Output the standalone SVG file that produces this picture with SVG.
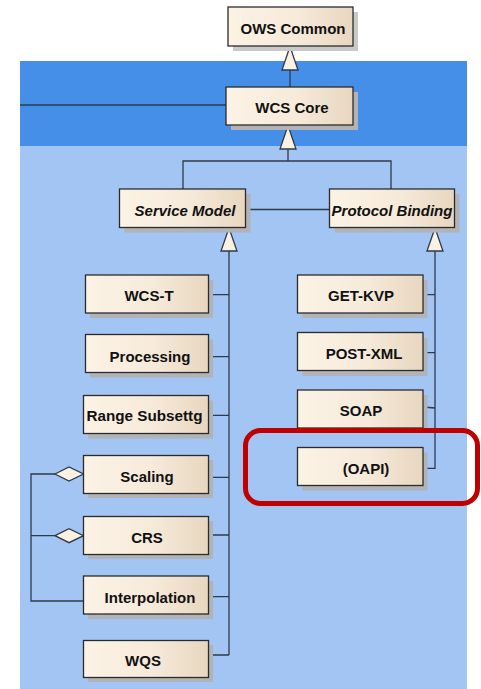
<svg xmlns="http://www.w3.org/2000/svg" width="481" height="689" viewBox="0 0 481 689">
  <defs>
    <linearGradient id="boxFill" x1="0" y1="0" x2="1" y2="0">
      <stop offset="0" stop-color="#FCF3E5"/>
      <stop offset="0.55" stop-color="#F6EADA"/>
      <stop offset="1" stop-color="#E8D7BF"/>
    </linearGradient>
    <style>
      .box { fill: url(#boxFill); stroke: #2b2b2b; stroke-width: 1.3; }
      .shadow { fill: #b2b3b6; }
      .shadow-w { fill: #c9c9c9; }
      .lbl { font-family: "Liberation Sans", Arial, sans-serif; font-weight: bold; font-size: 15px; fill: #111; text-anchor: middle; }
      .it { font-style: italic; }
      .wire { fill: none; stroke: #2f3a48; stroke-width: 1.3; }
      .head { fill: #FBF1E2; stroke: #2f3a48; stroke-width: 1.3; stroke-linejoin: miter; }
    </style>
  </defs>

  <!-- package backgrounds -->
  <rect x="0" y="0" width="481" height="689" fill="#ffffff"/>
  <rect x="20" y="146" width="447" height="543" fill="#A2C5F4"/>
  <rect x="20" y="61" width="447" height="85" fill="#458FE9"/>

  <!-- connectors -->
  <g id="connectors">
    <!-- WCS Core -> OWS Common -->
    <path class="wire" d="M290 70 V87"/>
    <polygon class="head" points="290,46.5 282,70 298,70"/>
    <!-- external link into WCS Core -->
    <path class="wire" d="M20 105 H226"/>
    <!-- Service Model / Protocol Binding -> WCS Core -->
    <path class="wire" d="M288 149 V161 M183 189 V161 H391 V189"/>
    <polygon class="head" points="288,125.5 280,149 296,149"/>
    <!-- Service Model — Protocol Binding -->
    <path class="wire" d="M246 209.5 H329"/>
    <!-- extensions -> Service Model -->
    <path class="wire" d="M229 251 V655 M209 294.7 H229 M209 356.7 H229 M209 415.3 H229 M209 477.3 H229 M209 535 H229 M209 596.7 H229 M209 655 H229"/>
    <polygon class="head" points="229,228 221,251 237,251"/>
    <!-- bindings -> Protocol Binding -->
    <path class="wire" d="M435 251 V468.3 H423 M423 294.7 H435 M423 352.7 H435 M423 407 L435 408"/>
    <polygon class="head" points="435,228 427,251 443,251"/>
    <!-- aggregations into Interpolation -->
    <path class="wire" d="M55 474 H31 V601 H83.5 M55 535.7 H31"/>
    <polygon class="head" points="55,474 69,467 83.5,474 69,481"/>
    <polygon class="head" points="55,535.7 69,528.7 83.5,535.7 69,542.7"/>
  </g>

  <g id="ows-common">
    <rect class="shadow-w" x="233" y="12" width="125" height="39"/>
    <rect class="box" x="228" y="7" width="125" height="39"/>
    <text class="lbl" x="293" y="34">OWS Common</text>
  </g>
  <g id="wcs-core">
    <rect class="shadow" x="231" y="92" width="127" height="38"/>
    <rect class="box" x="226" y="87" width="127" height="38"/>
    <text class="lbl" x="292" y="112.5">WCS Core</text>
  </g>
  <g id="service-model">
    <rect class="shadow" x="124.5" y="194" width="126" height="38.5"/>
    <rect class="box" x="119.5" y="189" width="126" height="38.5"/>
    <text class="lbl it" x="185" y="215.5">Service Model</text>
  </g>
  <g id="protocol-binding">
    <rect class="shadow" x="334.5" y="194" width="125" height="38.5"/>
    <rect class="box" x="329.5" y="189" width="125" height="38.5"/>
    <text class="lbl it" x="392" y="215.5">Protocol Binding</text>
  </g>

  <g id="wcs-t">
    <rect class="shadow" x="90" y="280" width="123" height="38"/>
    <rect class="box" x="85.5" y="275" width="123" height="38"/>
    <text class="lbl" x="149" y="300.5">WCS-T</text>
  </g>
  <g id="processing">
    <rect class="shadow" x="90" y="339.5" width="123" height="38"/>
    <rect class="box" x="85.5" y="334.5" width="123" height="38"/>
    <text class="lbl" x="150" y="361.5">Processing</text>
  </g>
  <g id="range-subsetting">
    <rect class="shadow" x="88" y="400.5" width="125" height="38"/>
    <rect class="box" x="83.5" y="395.5" width="125" height="38"/>
    <text class="lbl" x="144.5" y="421" textLength="116" lengthAdjust="spacingAndGlyphs">Range Subsettg</text>
  </g>
  <g id="scaling">
    <rect class="shadow" x="88" y="460" width="125" height="38"/>
    <rect class="box" x="83.5" y="455.5" width="125" height="38"/>
    <text class="lbl" x="147" y="482">Scaling</text>
  </g>
  <g id="crs">
    <rect class="shadow" x="88" y="521" width="125" height="38"/>
    <rect class="box" x="83.5" y="516.5" width="125" height="38"/>
    <text class="lbl" x="147" y="543">CRS</text>
  </g>
  <g id="interpolation">
    <rect class="shadow" x="88" y="581" width="125" height="38"/>
    <rect class="box" x="83.5" y="576" width="125" height="38"/>
    <text class="lbl" x="150" y="602.5">Interpolation</text>
  </g>
  <g id="wqs">
    <rect class="shadow" x="88" y="645" width="125" height="37"/>
    <rect class="box" x="83.5" y="640.5" width="125" height="37"/>
    <text class="lbl" x="143" y="666">WQS</text>
  </g>

  <g id="get-kvp">
    <rect class="shadow" x="302.5" y="280" width="125" height="38"/>
    <rect class="box" x="297.5" y="275" width="125.5" height="38"/>
    <text class="lbl" x="361" y="300.5">GET-KVP</text>
  </g>
  <g id="post-xml">
    <rect class="shadow" x="302.5" y="338" width="125" height="38"/>
    <rect class="box" x="297.5" y="332.5" width="125.5" height="38"/>
    <text class="lbl" x="364" y="358.5">POST-XML</text>
  </g>
  <g id="soap">
    <rect class="shadow" x="302.5" y="395" width="125" height="38"/>
    <rect class="box" x="297.5" y="390" width="125.5" height="38"/>
    <text class="lbl" x="361" y="416">SOAP</text>
  </g>
  <g id="oapi">
    <rect class="shadow" x="302.5" y="452.5" width="125" height="38"/>
    <rect class="box" x="297.5" y="447.5" width="125.5" height="38"/>
    <text class="lbl" x="366" y="474">(OAPI)</text>
  </g>

  <!-- highlight around the OAPI binding -->
  <rect x="245.5" y="430.5" width="232" height="73" rx="15" ry="15" fill="none" stroke="#C00000" stroke-width="5"/>
</svg>
